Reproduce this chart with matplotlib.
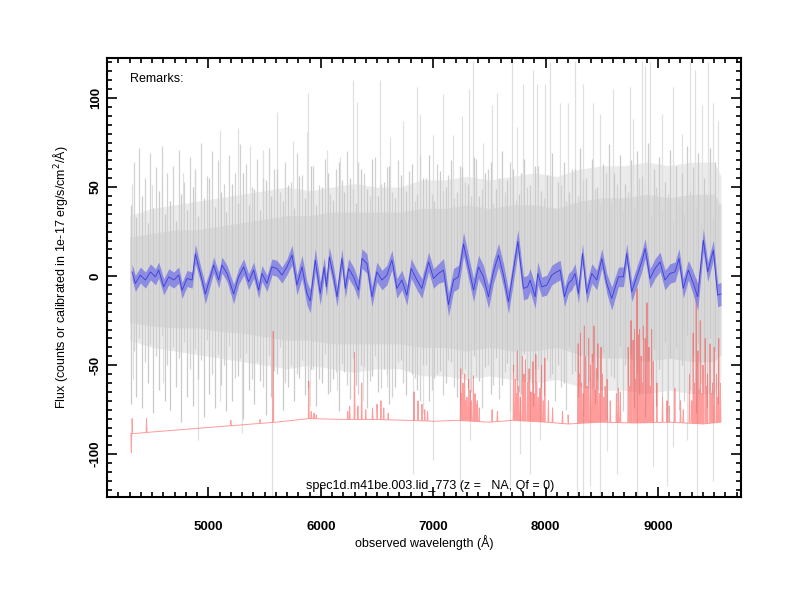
import numpy as np
import matplotlib
matplotlib.use("Agg")
import matplotlib.pyplot as plt

plt.rcParams['font.family'] = ['Liberation Sans', 'DejaVu Sans']
plt.rcParams['axes.unicode_minus'] = False

# smoothed spectrum (blue) and its error
blue_wave = [4321, 4351, 4395, 4440, 4484, 4529, 4558, 4603, 4647, 4692,
             4736, 4766, 4810, 4855, 4884, 4929, 4973, 5018, 5047, 5092,
             5121, 5166, 5225, 5269, 5314, 5358, 5403, 5447, 5477, 5521,
             5566, 5610, 5655, 5699, 5744, 5788, 5833, 5877, 5906, 5951,
             5995, 6030, 6050, 6076, 6114, 6144, 6188, 6218, 6247, 6292,
             6336, 6366, 6410, 6455, 6499, 6544, 6588, 6633, 6677, 6721,
             6766, 6804, 6855, 6899, 6959, 7003, 7047, 7092, 7136, 7181,
             7225, 7270, 7314, 7359, 7403, 7447, 7492, 7536, 7581, 7625,
             7670, 7714, 7753, 7803, 7840, 7862, 7907, 7931, 7966, 8011,
             8055, 8099, 8129, 8168, 8203, 8233, 8262, 8292, 8328, 8366,
             8411, 8455, 8500, 8544, 8588, 8648, 8692, 8722, 8766, 8811,
             8855, 8885, 8929, 8974, 9018, 9062, 9107, 9151, 9187, 9225,
             9270, 9314, 9353, 9403, 9442, 9492, 9531, 9560]
blue_flux = [2.4, -4.1, 0.6, -2.2, 2.4, -0.4, 3.4, -6.0, -0.4, -2.2,
             0.6, -8.0, -1.3, -2.2, 12.5, 1.5, -10.0, -0.4, 6.2, -2.2,
             6.2, 1.5, -10.0, -0.4, 5.2, -3.2, 3.4, -7.9, 1.5, -4.1,
             5.2, 4.3, 0.6, 5.2, 11.8, -5.0, 5.2, -9.7, -14.0, 9.0,
             -9.7, 5.0, -6.0, 10.8, -0.4, -11.6, 9.9, -6.9, 4.3, -0.4,
             -7.9, 9.9, 7.1, -11.6, 2.4, -2.2, 0.6, 9.0, -6.9, -2.2,
             -10.7, 4.3, -2.2, -6.9, 8.0, -1.3, 1.5, 3.4, -16.0, -2.2,
             -0.4, 18.0, 5.2, -7.9, 5.2, -0.4, -11.6, 2.4, 11.8, 0.6,
             -14.4, 3.4, 19.5, -6.9, -6.0, -2.2, -11.6, 1.5, -6.0, -5.0,
             0.6, 2.4, 3.4, -11.6, -4.1, -2.2, 1.5, -9.7, 12.7, -9.7,
             1.5, -2.2, 9.9, -4.1, -12.5, -0.4, -0.4, 12.7, -8.8, -0.4,
             8.0, 15.5, -1.3, 4.3, 8.0, -2.2, 1.5, 2.4, 9.9, -6.9,
             3.4, -4.1, -11.6, 20.2, 2.4, 14.6, -10.7, -10.0]
blue_err = [4.5, 4.5, 4.5, 4.5, 4.5, 4.5, 4.5, 4.5, 4.5, 4.5,
            4.5, 4.5, 4.5, 4.5, 5.5, 4.5, 5.5, 4.5, 4.5, 4.5,
            4.5, 4.5, 5.5, 4.5, 4.5, 4.5, 4.5, 4.5, 4.5, 4.5,
            4.5, 4.5, 4.5, 4.5, 5.5, 5.5, 6.5, 6.5, 6.5, 6.5,
            6.5, 5.5, 5.5, 5.5, 5.5, 5.5, 5.5, 5.5, 5.5, 5.5,
            5.5, 5.5, 5.5, 5.5, 5.5, 5.5, 5.5, 5.5, 5.5, 5.5,
            5.5, 5.5, 5.5, 5.5, 5.5, 5.5, 5.5, 6.5, 6.5, 6.5,
            6.5, 6.5, 6.5, 6.5, 6.5, 6.5, 6.5, 6.5, 6.5, 6.5,
            6.5, 6.5, 6.5, 6.5, 6.5, 6.5, 6.5, 6.5, 5.5, 5.5,
            5.5, 5.5, 5.5, 5.5, 5.5, 5.5, 5.5, 5.5, 5.5, 5.5,
            5.5, 5.5, 5.5, 5.5, 6.5, 5.5, 5.5, 5.5, 5.5, 5.5,
            5.5, 5.5, 5.5, 5.5, 5.5, 5.5, 5.5, 5.5, 5.5, 5.5,
            5.5, 6.5, 7.5, 6.5, 5.5, 5.5, 6.5, 6.5]

# raw spectrum (gray): dense core, halo, and single pixels sticking out
gray_wave = [4300, 4500, 4700, 4900, 5100, 5300, 5500, 5700, 5900, 6100,
             6300, 6500, 6700, 6900, 7100, 7300, 7500, 7700, 7900, 8100,
             8300, 8500, 8700, 8900, 9100, 9300, 9500, 9560]
core_hi = [22, 24, 26, 26, 28, 30, 32, 34, 34, 36, 36, 36, 36, 38,
           38, 40, 38, 40, 40, 38, 42, 44, 44, 46, 44, 46, 46, 40]
core_lo = [-26, -28, -29, -29, -31, -32, -34, -36, -36, -38, -38, -38, -38, -40,
           -40, -42, -40, -42, -42, -40, -44, -46, -46, -48, -46, -48, -48, -44]
halo_hi = [34, 38, 40, 42, 44, 46, 48, 50, 48, 50, 52, 50, 50, 54,
           54, 56, 54, 56, 58, 56, 60, 62, 62, 64, 62, 64, 64, 56]
halo_lo = [-36, -40, -42, -44, -46, -48, -50, -52, -50, -52, -54, -52, -52, -56,
           -56, -58, -56, -58, -60, -58, -62, -64, -64, -66, -64, -66, -66, -58]
hair_wave = np.arange(4310, 9560, 50)
hair_top = [40, 33, 45, 30, 38, 48, 35, 42, 31, 46,
            37, 50, 34, 44, 55, 39, 47, 36, 52, 41,
            58, 40, 49, 37, 54, 45, 60, 42, 51, 38,
            56, 44, 62, 40, 50, 58, 43, 64, 47, 55,
            41, 60, 49, 66, 45, 53, 62, 44, 57, 48,
            63, 46, 55, 68, 42, 59, 50, 65, 47, 61,
            52, 67, 45, 58, 64, 49, 70, 54, 60, 46,
            66, 51, 62, 48, 57, 69, 53, 64, 47, 60,
            72, 55, 66, 50, 63, 74, 58, 68, 52, 65,
            70, 56, 75, 60, 67, 53, 71, 62, 58, 73,
            61, 69, 55, 72, 64]
hair_bot = [-42, -35, -48, -38, -45, -33, -50, -40, -46, -37,
            -52, -41, -47, -36, -55, -44, -50, -39, -57, -46,
            -43, -58, -48, -62, -45, -53, -40, -60, -50, -55,
            -47, -63, -52, -58, -44, -65, -54, -49, -61, -46,
            -66, -51, -59, -45, -63, -55, -68, -48, -60, -53,
            -57, -70, -50, -64, -55, -67, -47, -62, -72, -52,
            -65, -56, -74, -50, -61, -69, -54, -76, -58, -66,
            -60, -73, -52, -67, -57, -70, -62, -75, -55, -68,
            -78, -59, -72, -64, -80, -56, -70, -76, -61, -74,
            -66, -79, -58, -73, -68, -82, -62, -75, -70, -64,
            -77, -60, -74, -68, -72]
up_wave = [4322, 4499, 4588, 4778, 4884, 5106, 5267, 5373, 5489, 5613,
           5755, 5880, 5889, 6058, 6173, 6289, 6324, 6529, 6618, 6733,
           6858, 6884, 7000, 7089, 7178, 7258, 7320, 7356, 7444, 7524,
           7569, 7702, 7747, 7800, 7889, 7924, 7996, 8040, 8129, 8200,
           8262, 8333, 8422, 8484, 8600, 8751, 8778, 8858, 8884, 8929,
           9031, 9133, 9213, 9284, 9329, 9391, 9444, 9489, 9533]
up_top = [52, 51, 56, 58, 58, 82, 83, 73, 71, 92,
          76, 81, 103, 71, 67, 110, 98, 110, 78, 87,
          106, 91, 79, 102, 79, 90, 105, 121, 75, 96,
          103, 121, 84, 108, 116, 108, 108, 120, 97, 97,
          121, 108, 97, 91, 105, 106, 88, 121, 118, 121,
          91, 106, 80, 121, 116, 96, 120, 97, 87]
down_wave = [4333, 4600, 4911, 5106, 5302, 5569, 5667, 5907, 6147, 6378,
             6591, 6822, 6911, 7000, 7240, 7329, 7684, 7773, 7862, 7951,
             8280, 8333, 8396, 8484, 8547, 8636, 8813, 8955, 9080, 9133,
             9258, 9346, 9489]
down_bot = [-58, -60, -92, -70, -88, -126, -58, -73, -64, -70,
            -62, -111, -77, -103, -118, -92, -118, -100, -111, -92,
            -126, -126, -118, -126, -98, -111, -126, -107, -118, -96,
            -92, -126, -115]

# sky spectrum (red): continuum plus emission lines
sky_wave = [4320, 4500, 4800, 5000, 5300, 5600, 5900, 6200, 6500, 6800, 7000,
            7200, 7500, 7700, 8000, 8200, 8500, 8800, 9100, 9400, 9560]
sky_cont = [-88.5, -87.5, -86, -85, -83.5, -82, -80, -80.5, -80.5, -81, -81.5,
            -81, -82, -81, -82, -83, -82, -82.5, -82, -83, -82]
line_wave = [4315, 4322, 4450, 5200, 5460, 5577, 5893, 5915, 5940, 5960,
             6240, 6257, 6300, 6330, 6364, 6400, 6460, 6500, 6535, 6560, 6600,
             6830, 6865, 6900, 6925, 6950,
             7245, 7255, 7265, 7280, 7290, 7300, 7316, 7330, 7340, 7358, 7372,
             7383, 7392, 7410, 7524, 7571,
             7715, 7730, 7740, 7750, 7760, 7775, 7794, 7808, 7821, 7840, 7853,
             7870, 7887, 7900, 7913, 7921, 7935, 7949, 7964, 7980, 7993, 8025,
             8062, 8150, 8200,
             8290, 8300, 8310, 8320, 8335, 8345, 8352, 8368, 8383, 8400, 8415,
             8430, 8443, 8452, 8465, 8480, 8493, 8505, 8518, 8530, 8548, 8575,
             8630, 8648, 8665,
             8735, 8748, 8760, 8778, 8791, 8802, 8813, 8827, 8836, 8850, 8860,
             8870, 8886, 8902, 8919, 8930, 8943, 8958, 8990, 9040, 9080, 9100,
             9150, 9200, 9225,
             9280, 9300, 9313, 9325, 9340, 9355, 9365, 9376, 9390, 9400, 9420,
             9430, 9440, 9463, 9475, 9485, 9500, 9520, 9530, 9540, 9555]
line_peak = [-99, -80, -80, -81, -80.5, -31, -59, -76, -77, -78,
             -76, -73, -43, -73, -60, -75, -74, -72, -70, -74, -77,
             -65, -70, -72, -75, -76,
             -52, -66, -60, -55, -70, -68, -58, -64, -70, -56, -66,
             -72, -70, -74, -75, -76,
             -50, -58, -66, -42, -62, -68, -45, -55, -47, -60, -52,
             -65, -48, -66, -44, -60, -68, -63, -50, -70, -46, -70,
             -74, -76, -78,
             -38, -55, -32, -60, -66, -28, -45, -62, -35, -50, -44,
             -28, -64, -52, -38, -66, -40, -55, -68, -62, -58, -70,
             -66, -63, -65,
             -40, -62, -25, -36, -30, -58, -7, -33, -30, -45, -60,
             -28, -35, -15, -40, -62, -30, -48, -60, -68, -70, -73,
             -63, -70, -75,
             -55, -70, -32, -60, -2, -42, -64, -25, -66, -50, -35,
             -62, -55, -38, -66, -60, -40, -55, -68, -35, -60]

fig = plt.figure(figsize=(8, 6), dpi=100)
ax = fig.add_axes([0.134, 0.1717, 0.7925, 0.7317])

ax.fill_between(gray_wave, halo_lo, halo_hi, color='#ebebeb', lw=0, zorder=1)
ax.vlines(up_wave, 0, up_top, color='#e0e0e0', lw=0.9, zorder=1)
ax.vlines(down_wave, down_bot, 0, color='#e0e0e0', lw=0.9, zorder=1)
ax.fill_between(gray_wave, core_lo, core_hi, color='#dadada', lw=0, zorder=2)
ax.vlines(hair_wave, hair_bot[::-1], hair_top, color='#cacaca', lw=0.9, zorder=2)
ax.vlines(hair_wave + 25, hair_bot, hair_top[::-1], color='#d2d2d2', lw=0.9, zorder=2)

# sky: each line drawn as a narrow spike on the continuum
lw_ = np.array(line_wave, dtype=float)
foot = np.interp(lw_, sky_wave, sky_cont)
sx = np.concatenate([sky_wave, lw_ - 4, lw_, lw_ + 4])
sy = np.concatenate([sky_cont, foot, line_peak, foot])
order = np.argsort(sx, kind='stable')
ax.plot(sx[order], sy[order], color='#ff3a3a', lw=0.7, alpha=0.5, zorder=3)

bw = np.array(blue_wave)
bf = np.array(blue_flux)
be = np.array(blue_err)
ax.fill_between(bw, bf - be, bf + be, color='#7a7ae4', alpha=0.8, lw=0, zorder=4)
ax.plot(bw, bf, color='#3c3cdc', lw=0.6, zorder=5)

ax.set_xlim(4100, 9740)
ax.set_ylim(-124, 122.5)
ax.set_xticks([5000, 6000, 7000, 8000, 9000])
ax.set_yticks([-100, -50, 0, 50, 100])
ax.set_xticks(np.arange(4200, 9800, 100), minor=True)
ax.set_yticks(np.arange(-120, 125, 5), minor=True)
ax.tick_params(which='both', direction='in', top=True, right=True, width=1.2)
ax.tick_params(which='major', length=7, labelsize=9.5)
ax.tick_params(which='minor', length=3.5)
ax.tick_params(axis='x', which='major', pad=17)
ax.tick_params(axis='y', which='major', pad=4)
for lab in ax.get_xticklabels() + ax.get_yticklabels():
    lab.set_fontweight('bold')
for lab in ax.get_yticklabels():
    lab.set_rotation(90)
    lab.set_va('center')
for s in ax.spines.values():
    s.set_linewidth(1.5)

ax.set_xlabel('observed wavelength (Å)', fontsize=9, labelpad=2)
ax.set_ylabel('Flux (counts or calibrated in 1e-17 erg/s/cm$^2$/Å)', fontsize=9, labelpad=14)
ax.text(0.036, 0.965, 'Remarks:', transform=ax.transAxes, fontsize=9, va='top', ha='left')
ax.text(0.51, 0.012, 'spec1d.m41be.003.lid_773 (z =   NA, Qf = 0)', transform=ax.transAxes,
        fontsize=9, va='bottom', ha='center', zorder=6)

fig.savefig('out.png', dpi=100)
